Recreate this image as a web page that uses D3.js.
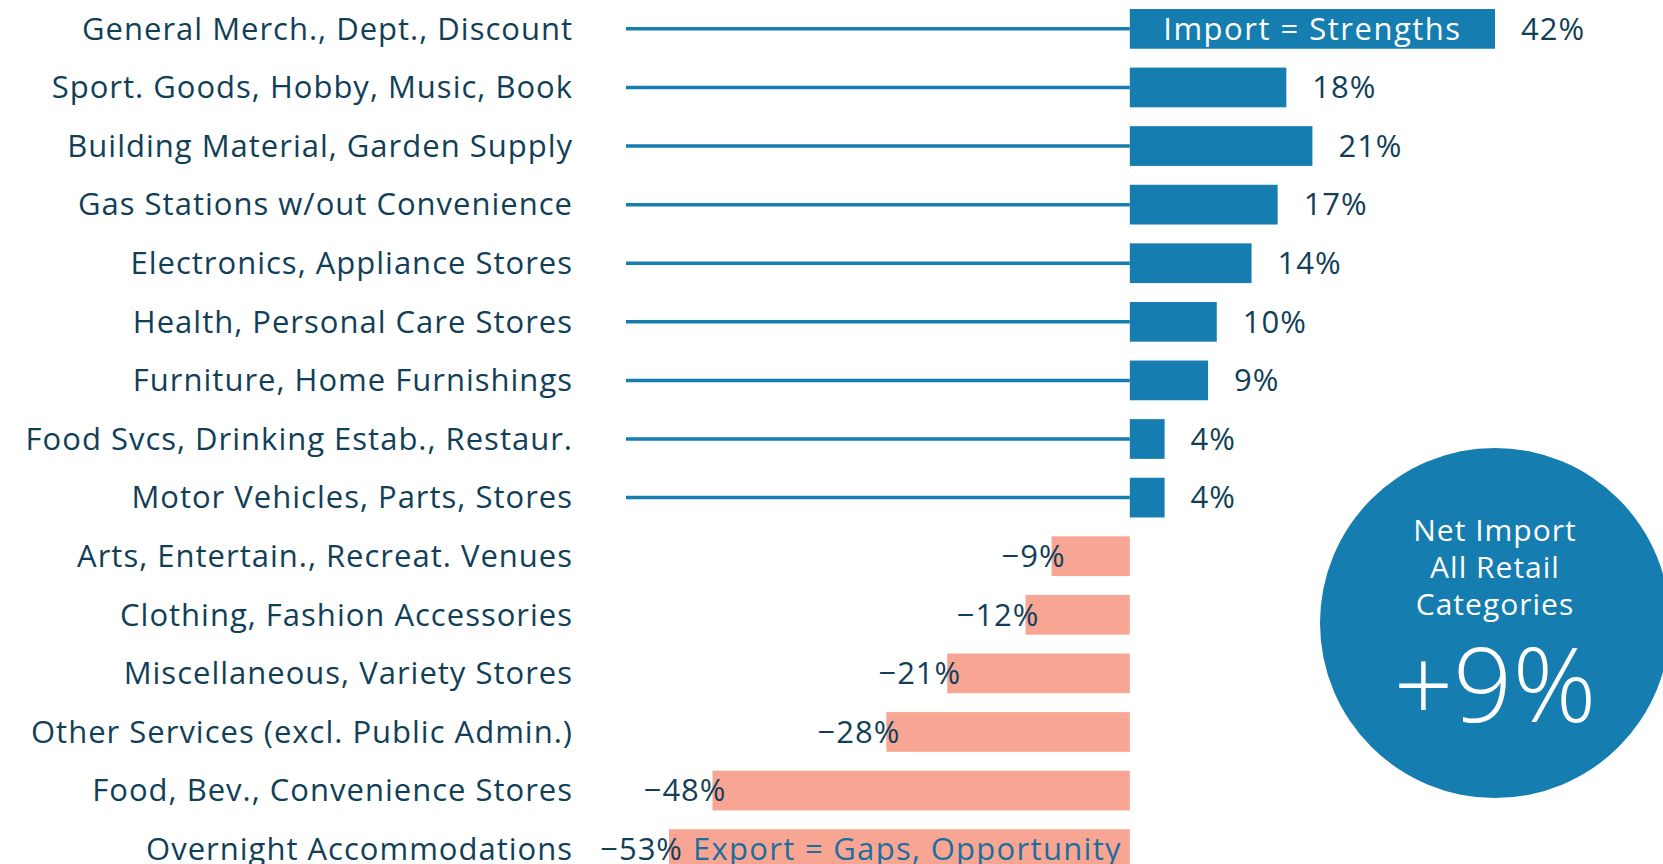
<!DOCTYPE html>
<html>
<head>
<meta charset="utf-8">
<script src="https://cdn.jsdelivr.net/npm/d3@7"></script>
<style>
  body { margin: 0; background: #fff; }
  svg { display: block; }
</style>
</head>
<body>
<svg id="chart" width="1663" height="864"></svg>
<script>
var categories = [
  "General Merch., Dept., Discount",
  "Sport. Goods, Hobby, Music, Book",
  "Building Material, Garden Supply",
  "Gas Stations w/out Convenience",
  "Electronics, Appliance Stores",
  "Health, Personal Care Stores",
  "Furniture, Home Furnishings",
  "Food Svcs, Drinking Estab., Restaur.",
  "Motor Vehicles, Parts, Stores",
  "Arts, Entertain., Recreat. Venues",
  "Clothing, Fashion Accessories",
  "Miscellaneous, Variety Stores",
  "Other Services (excl. Public Admin.)",
  "Food, Bev., Convenience Stores",
  "Overnight Accommodations"
];
var values = [42, 18, 21, 17, 14, 10, 9, 4, 4, -9, -12, -21, -28, -48, -53];
var netImport = 9;
var circleLines = ["Net Import", "All Retail", "Categories"];

var font = "'Open Sans', sans-serif";
var textColor = "#123f58";
var blue = "#157db0";
var salmon = "#f9a593";

var svg = d3.select("#chart");

var x = d3.scaleLinear().domain([-53, 42]).range([669, 1495]);
var y = d3.scaleBand().domain(categories).range([9, 869]).paddingInner(0.322).paddingOuter(0).align(0);

var fmt = function(v) { return d3.format("d")(v) + "%"; };

// every text gets the same face, slightly spaced out like the original
function styleText(sel, size) {
  return sel.attr("font-family", font)
    .attr("font-size", size)
    .attr("letter-spacing", 1);
}

// connector lines for the positive rows
svg.selectAll("line.lead")
  .data(values.map(function(v, i) { return {v: v, c: categories[i]}; }).filter(function(d) { return d.v > 0; }))
  .enter().append("line")
  .attr("class", "lead")
  .attr("x1", 626).attr("x2", x(0))
  .attr("y1", function(d) { return y(d.c) + y.bandwidth() / 2; })
  .attr("y2", function(d) { return y(d.c) + y.bandwidth() / 2; })
  .attr("stroke", blue).attr("stroke-width", 3.5);

// bars
svg.selectAll("rect.bar")
  .data(values)
  .enter().append("rect")
  .attr("class", "bar")
  .attr("x", function(d) { return x(Math.min(0, d)); })
  .attr("y", function(d, i) { return y(categories[i]); })
  .attr("width", function(d) { return Math.abs(x(d) - x(0)); })
  .attr("height", y.bandwidth())
  .attr("fill", function(d) { return d > 0 ? blue : salmon; });

// category labels
svg.selectAll("text.cat")
  .data(categories)
  .enter().append("text")
  .attr("class", "cat")
  .attr("x", 573)
  .attr("y", function(d) { return y(d) + y.bandwidth() / 2; })
  .attr("dy", "0.35em")
  .attr("text-anchor", "end")
  .call(styleText, 31)
  .attr("fill", textColor)
  .text(function(d) { return d; });

// value labels
svg.selectAll("text.val")
  .data(values)
  .enter().append("text")
  .attr("class", "val")
  .attr("x", function(d) { return d > 0 ? x(d) + 26 : x(d) + 14; })
  .attr("y", function(d, i) { return y(categories[i]) + y.bandwidth() / 2; })
  .attr("dy", "0.35em")
  .attr("text-anchor", function(d) { return d > 0 ? "start" : "end"; })
  .call(styleText, 31)
  .attr("fill", textColor)
  .text(fmt);

// in-bar notes
var first = categories[0], last = categories[categories.length - 1];
svg.append("text")
  .attr("x", (x(0) + x(values[0])) / 2)
  .attr("y", y(first) + y.bandwidth() / 2)
  .attr("dy", "0.35em")
  .attr("text-anchor", "middle")
  .call(styleText, 31)
  .attr("letter-spacing", 1.5)
  .attr("fill", "#fff")
  .text("Import = Strengths");

svg.append("text")
  .attr("x", x(0) - 8)
  .attr("y", y(last) + y.bandwidth() / 2)
  .attr("dy", "0.35em")
  .attr("text-anchor", "end")
  .call(styleText, 31)
  .attr("letter-spacing", 1.3)
  .attr("fill", "#1b6f9f")
  .text("Export = Gaps, Opportunity");

// summary circle
var cx = 1495, cy = 623;
svg.append("circle").attr("cx", cx).attr("cy", cy).attr("r", 175).attr("fill", blue);
svg.selectAll("text.circ")
  .data(circleLines)
  .enter().append("text")
  .attr("class", "circ")
  .attr("x", cx)
  .attr("y", function(d, i) { return 530 + i * 37; })
  .attr("dy", "0.35em")
  .attr("text-anchor", "middle")
  .call(styleText, 30)
  .attr("fill", "#fff")
  .text(function(d) { return d; });
svg.append("text")
  .attr("x", cx)
  .attr("y", 722)
  .attr("text-anchor", "middle")
  .attr("font-family", font).attr("font-size", 104).attr("font-weight", 300)
  .attr("fill", "#fff")
  .text("+" + netImport + "%");
</script>
</body>
</html>
